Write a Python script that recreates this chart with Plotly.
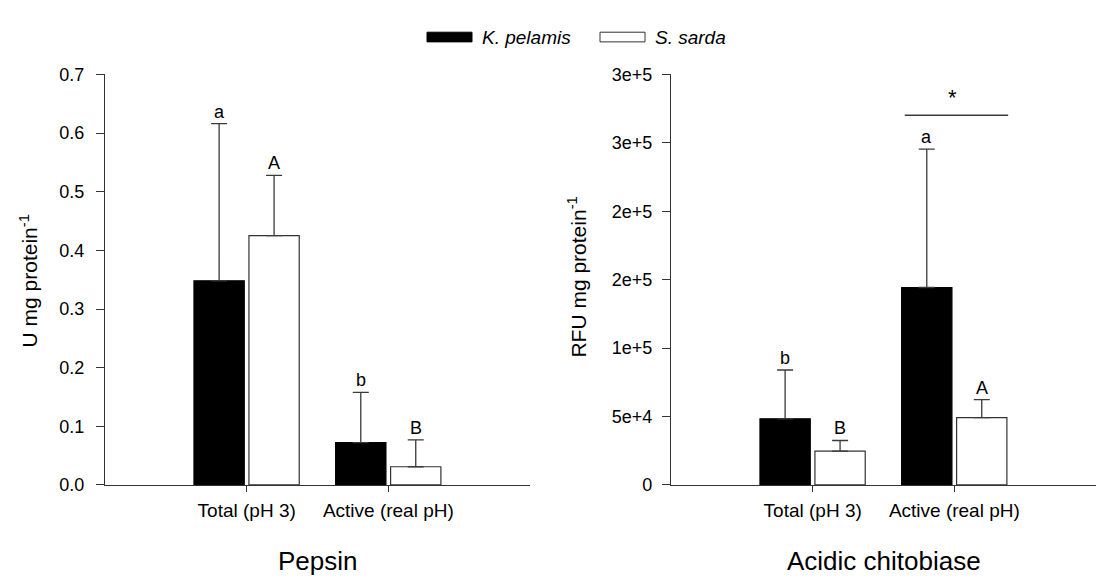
import plotly.graph_objects as go

# ---------------- data ----------------
categories = ["Total (pH 3)", "Active (real pH)"]
series_names = ["K. pelamis", "S. sarda"]

pepsin_kp = [0.348, 0.072]
pepsin_kp_err = [0.268, 0.086]
pepsin_ss = [0.425, 0.031]
pepsin_ss_err = [0.103, 0.046]
pepsin_letters_kp = ["a", "b"]
pepsin_letters_ss = ["A", "B"]

chito_kp = [48300, 144300]
chito_kp_err = [35700, 101100]
chito_ss = [24700, 49200]
chito_ss_err = [7800, 13200]
chito_letters_kp = ["b", "a"]
chito_letters_ss = ["B", "A"]

pepsin_ticks = [0.0, 0.1, 0.2, 0.3, 0.4, 0.5, 0.6, 0.7]
chito_tickvals = [0, 50000, 100000, 150000, 200000, 250000, 300000]
chito_ticktext = ["0", "5e+4", "1e+5", "2e+5", "2e+5", "3e+5", "3e+5"]

sig_level = 270100
sig_span = [0.65, 1.38]

# ---------------- style ----------------
W, H = 1100, 587
FONT = "Arial, Liberation Sans, sans-serif"
AX = "#333333"
ERR = "#3a3a3a"
BW = 0.355
OFF_K = -0.372
OFF_S = 0.016
xpos = list(range(len(categories)))


def px(x):
    return x / W


def py(y):
    return 1 - y / H


fig = go.Figure()


def add_panel(xa, ya, kp, kp_err, ss, ss_err):
    fig.add_trace(go.Bar(
        x=xpos, y=kp, width=BW, offset=OFF_K, xaxis=xa, yaxis=ya,
        marker=dict(color="black", line=dict(color="black", width=1.2)),
        error_y=dict(type="data", array=kp_err, arrayminus=[0] * len(kp),
                     symmetric=False, color=ERR, thickness=1.3, width=8),
        showlegend=False, name=series_names[0]))
    fig.add_trace(go.Bar(
        x=xpos, y=ss, width=BW, offset=OFF_S, xaxis=xa, yaxis=ya,
        marker=dict(color="white", line=dict(color=AX, width=1.2)),
        error_y=dict(type="data", array=ss_err, arrayminus=[0] * len(ss),
                     symmetric=False, color=ERR, thickness=1.3, width=8),
        showlegend=False, name=series_names[1]))


add_panel("x", "y", pepsin_kp, pepsin_kp_err, pepsin_ss, pepsin_ss_err)
add_panel("x2", "y2", chito_kp, chito_kp_err, chito_ss, chito_ss_err)

ydom = [py(491.7), py(66.7)]
common_x = dict(range=[-1, 2], showgrid=False, zeroline=False, showline=True,
                linecolor=AX, linewidth=1.3, ticks="outside", ticklen=6,
                tickcolor=AX, tickwidth=1.2, tickvals=xpos, ticktext=categories,
                ticklabelstandoff=2,
                tickfont=dict(family=FONT, size=19, color="black"))
common_y = dict(showgrid=False, zeroline=False, showline=True, linecolor=AX,
                linewidth=1.3, ticks="outside", ticklen=8, tickcolor=AX,
                tickwidth=1.2, tickfont=dict(family=FONT, size=18, color="black"),
                domain=ydom)

fig.update_layout(
    width=W, height=H, margin=dict(l=0, r=0, t=0, b=0),
    paper_bgcolor="white", plot_bgcolor="white", barmode="overlay",
    showlegend=False,
    xaxis=dict(domain=[px(105), px(530)], anchor="y", **common_x),
    yaxis=dict(range=[0, 0.7], tickvals=pepsin_ticks, tickformat=".1f",
               anchor="x", ticklabelstandoff=8, **common_y),
    xaxis2=dict(domain=[px(671), px(1096)], anchor="y2", **common_x),
    yaxis2=dict(range=[0, 300000], tickvals=chito_tickvals, ticktext=chito_ticktext,
                anchor="x2", ticklabelstandoff=6, **common_y),
)

ann = []
# letters above error bars
for xa, ya, vals, errs, letters, off in [
    ("x", "y", pepsin_kp, pepsin_kp_err, pepsin_letters_kp, OFF_K),
    ("x", "y", pepsin_ss, pepsin_ss_err, pepsin_letters_ss, OFF_S),
    ("x2", "y2", chito_kp, chito_kp_err, chito_letters_kp, OFF_K),
    ("x2", "y2", chito_ss, chito_ss_err, chito_letters_ss, OFF_S),
]:
    for i, (v, e, t) in enumerate(zip(vals, errs, letters)):
        ann.append(dict(x=xpos[i] + off + BW / 2, y=v + e, xref=xa, yref=ya,
                        text=t, showarrow=False, yanchor="bottom", yshift=0,
                        font=dict(family=FONT, size=18, color="black")))

# significance line + star
fig.add_shape(type="line", xref="x2", yref="y2", x0=sig_span[0], x1=sig_span[1],
              y0=sig_level, y1=sig_level, line=dict(color=ERR, width=1.5))
ann.append(dict(x=sum(sig_span) / 2 - 0.03, y=sig_level, xref="x2", yref="y2", text="*",
                showarrow=False, yanchor="bottom", yshift=3,
                font=dict(family=FONT, size=22, color="black")))

# axis titles
ann.append(dict(x=px(29), y=py(281), xref="paper", yref="paper",
                text="U mg protein<sup>-1</sup>", textangle=-90, showarrow=False,
                xanchor="center", yanchor="middle",
                font=dict(family=FONT, size=21, color="black")))
ann.append(dict(x=px(577), y=py(277), xref="paper", yref="paper",
                text="RFU mg protein<sup>-1</sup>", textangle=-90, showarrow=False,
                xanchor="center", yanchor="middle",
                font=dict(family=FONT, size=21, color="black")))

# panel titles
ann.append(dict(x=px(317.5), y=py(570), xref="paper", yref="paper", text="Pepsin",
                showarrow=False, xanchor="center", yanchor="middle",
                font=dict(family=FONT, size=26, color="black")))
ann.append(dict(x=px(883.5), y=py(570), xref="paper", yref="paper",
                text="Acidic chitobiase", showarrow=False, xanchor="center",
                yanchor="middle", font=dict(family=FONT, size=26, color="black")))

# legend (custom wide swatches)
fig.add_shape(type="rect", xref="paper", yref="paper", x0=px(427), x1=px(472),
              y0=py(33), y1=py(23), fillcolor="black", line=dict(color="black", width=1))
fig.add_shape(type="rect", xref="paper", yref="paper", x0=px(600), x1=px(645),
              y0=py(33), y1=py(23), fillcolor="white", line=dict(color=AX, width=1))
ann.append(dict(x=px(480), y=py(28), xref="paper", yref="paper",
                text="<i>" + series_names[0] + "</i>", showarrow=False,
                xanchor="left", yanchor="middle",
                font=dict(family=FONT, size=19, color="black")))
ann.append(dict(x=px(653), y=py(28), xref="paper", yref="paper",
                text="<i>" + series_names[1] + "</i>", showarrow=False,
                xanchor="left", yanchor="middle",
                font=dict(family=FONT, size=19, color="black")))

fig.update_layout(annotations=ann)
fig.write_html("out.html")
